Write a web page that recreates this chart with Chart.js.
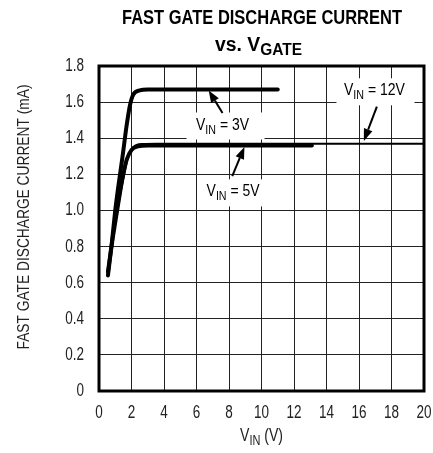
<!DOCTYPE html>
<html lang="en">
<head>
  <meta charset="UTF-8">
  <title>Fast Gate Discharge Current vs. VGATE</title>
  <style>
    * { margin: 0; padding: 0; box-sizing: border-box; }
    body { background: #fff; width: 433px; height: 453px; overflow: hidden; }
  </style>
  <script src="https://cdn.jsdelivr.net/npm/chart.js"></script>
</head>
<body>
  <canvas id="chart" width="433" height="453"></canvas>

  <script>
    // curves (x = V, y = mA)
    const vin3X = [0.55, 0.8, 1.0, 1.2, 1.45, 1.7, 1.9, 2.1, 2.5, 3.0, 6.0, 11.0];
    const vin3Y = [0.64, 0.83, 1.00, 1.14, 1.30, 1.47, 1.58, 1.64, 1.665, 1.67, 1.67, 1.67];

    const vin5X = [0.55, 0.85, 1.15, 1.45, 1.7, 2.0, 2.4, 3.0, 6.0, 13.1];
    const vin5Y = [0.66, 0.85, 1.02, 1.18, 1.28, 1.335, 1.355, 1.36, 1.36, 1.36];

    const vin12X = [0.6, 0.95, 1.25, 1.55, 1.8, 2.1, 2.7, 3.5, 10.0, 20.0];
    const vin12Y = [0.70, 0.90, 1.06, 1.20, 1.30, 1.35, 1.368, 1.37, 1.37, 1.37];

    const xTicks = [0, 2, 4, 6, 8, 10, 12, 14, 16, 18, 20];
    const yTicks = [0, 0.2, 0.4, 0.6, 0.8, 1.0, 1.2, 1.4, 1.6, 1.8];

    // callout labels: text position and arrow (tail -> tip) in data units
    const callouts = [
      { rest: " = 3V", x: 7.6, y: 1.465, w: 53, box: [-36, -14, 78, 27], tail: [7.6, 1.54], tip: [6.75, 1.665] },
      { rest: " = 5V", x: 8.25, y: 1.1, w: 53, box: [-34, -13, 68, 27], tail: [8.2, 1.19], tip: [8.95, 1.352] },
      { rest: " = 12V", x: 16.95, y: 1.66, w: 61, box: [-38, -13, 78, 27], tail: [17.1, 1.575], tip: [16.3, 1.385] }
    ];

    const FONT = '"Liberation Sans", Arial, sans-serif';

    function toPts(xs, ys) {
      return xs.map((x, i) => ({ x: x, y: ys[i] }));
    }

    // text parts: [string, isSub]; squeezed horizontally to the given width
    function drawParts(ctx, parts, cx, cy, size, weight, width, align) {
      const big = weight + " " + size + "px " + FONT;
      const small = weight + " " + Math.round(size * 0.78) + "px " + FONT;
      const ws = parts.map(p => { ctx.font = p[1] ? small : big; return ctx.measureText(p[0]).width; });
      const total = ws.reduce((s, v) => s + v, 0);
      const sx = width ? width / total : 0.75;
      ctx.save();
      ctx.translate(cx, cy);
      ctx.scale(sx, 1);
      ctx.textBaseline = "middle"; ctx.textAlign = "left";
      let x = align === "right" ? -total : -total / 2;
      parts.forEach((p, i) => {
        ctx.font = p[1] ? small : big;
        ctx.fillText(p[0], x, p[1] ? size * 0.3 : 0);
        x += ws[i];
      });
      ctx.restore();
    }

    const decorations = {
      id: "decorations",
      afterDatasetsDraw(chart) {
        const ctx = chart.ctx, a = chart.chartArea;
        const xs = chart.scales.x, ys = chart.scales.y;
        ctx.save();
        ctx.fillStyle = "#000"; ctx.strokeStyle = "#000";

        // callouts
        callouts.forEach(c => {
          const cx = xs.getPixelForValue(c.x), cy = ys.getPixelForValue(c.y);
          ctx.fillStyle = "#fff";
          ctx.fillRect(cx + c.box[0], cy + c.box[1], c.box[2], c.box[3]);
          ctx.fillStyle = "#000";
          drawParts(ctx, [["V", false], ["IN", true], [c.rest, false]], cx, cy - 1, 17, "normal", c.w);

          const x1 = xs.getPixelForValue(c.tail[0]), y1 = ys.getPixelForValue(c.tail[1]);
          const x2 = xs.getPixelForValue(c.tip[0]), y2 = ys.getPixelForValue(c.tip[1]);
          const ang = Math.atan2(y2 - y1, x2 - x1);
          const hl = 12, hw = 4.5;
          const bx = x2 - hl * Math.cos(ang), by = y2 - hl * Math.sin(ang);
          ctx.lineWidth = 2;
          ctx.beginPath(); ctx.moveTo(x1, y1); ctx.lineTo(bx, by); ctx.stroke();
          ctx.beginPath();
          ctx.moveTo(x2, y2);
          ctx.lineTo(bx + hw * Math.sin(ang), by - hw * Math.cos(ang));
          ctx.lineTo(bx - hw * Math.sin(ang), by + hw * Math.cos(ang));
          ctx.closePath(); ctx.fill();
        });

        // heavy frame
        ctx.lineWidth = 3;
        ctx.strokeRect(a.left, a.top, a.right - a.left, a.bottom - a.top);

        // tick labels (narrow face)
        ctx.fillStyle = "#222";
        yTicks.forEach(v => {
          const t = v === 0 ? "0" : v.toFixed(1);
          drawParts(ctx, [[t, false]], 84, ys.getPixelForValue(v), 18, "normal", 0, "right");
        });
        xTicks.forEach(v => {
          drawParts(ctx, [[String(v), false]], xs.getPixelForValue(v), 413, 18, "normal", 0);
        });

        // titles
        ctx.fillStyle = "#000";
        drawParts(ctx, [["FAST GATE DISCHARGE CURRENT", false]], 262, 18, 20, "bold", 280);
        drawParts(ctx, [["vs. V", false], ["GATE", true]], 258.5, 45, 20, "bold", 87);

        ctx.fillStyle = "#222";
        drawParts(ctx, [["V", false], ["IN", true], [" (V)", false]], 261.5, 436, 18, "normal", 43);

        ctx.save();
        ctx.translate(25, 217); ctx.rotate(-Math.PI / 2);
        drawParts(ctx, [["FAST GATE DISCHARGE CURRENT (mA)", false]], 0, 0, 16, "normal", 265);
        ctx.restore();

        ctx.restore();
      }
    };

    const lineSet = (label, xs, ys, w) => ({
      label: label,
      data: toPts(xs, ys),
      borderColor: "#000",
      borderWidth: w,
      pointRadius: 0,
      fill: false,
      cubicInterpolationMode: "monotone",
      borderCapStyle: "round"
    });

    new Chart(document.getElementById("chart"), {
      type: "line",
      data: {
        datasets: [
          lineSet("VIN = 12V", vin12X, vin12Y, 2),
          lineSet("VIN = 5V", vin5X, vin5Y, 4),
          lineSet("VIN = 3V", vin3X, vin3Y, 4)
        ]
      },
      options: {
        responsive: false,
        animation: false,
        layout: { padding: { top: 66, right: 9, left: 0, bottom: 0 } },
        plugins: { legend: { display: false }, tooltip: { enabled: false } },
        scales: {
          x: {
            type: "linear", min: 0, max: 20,
            afterBuildTicks: s => { s.ticks = xTicks.map(v => ({ value: v })); },
            afterFit: s => { s.height = 62; },
            grid: { color: "#222", lineWidth: 1, drawTicks: false },
            border: { display: false },
            ticks: { display: false }
          },
          y: {
            type: "linear", min: 0, max: 1.8,
            afterBuildTicks: s => { s.ticks = yTicks.map(v => ({ value: v })); },
            afterFit: s => { s.width = 99; },
            grid: { color: "#222", lineWidth: 1, drawTicks: false },
            border: { display: false },
            ticks: { display: false }
          }
        }
      },
      plugins: [decorations]
    });
  </script>
</body>
</html>
